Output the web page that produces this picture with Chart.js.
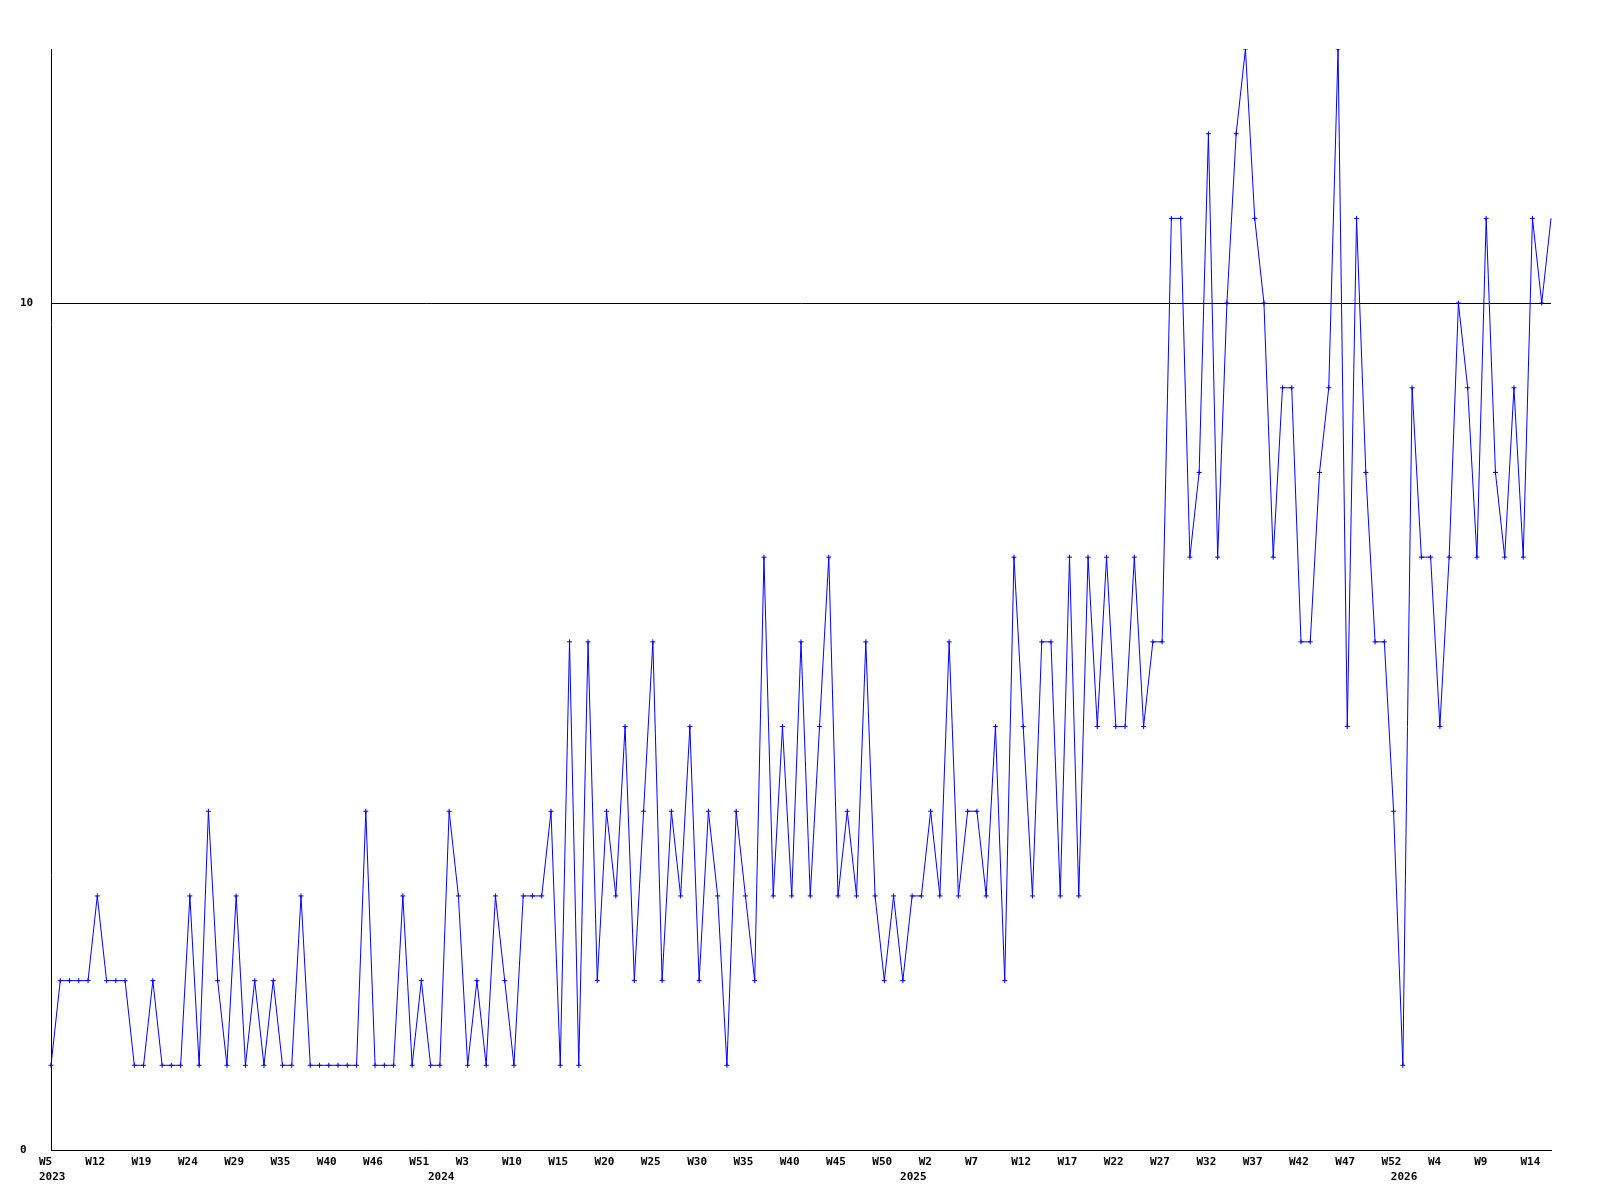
<!DOCTYPE html>
<html>
<head>
<meta charset="utf-8">
<title>Weekly count</title>
<script src="https://cdn.jsdelivr.net/npm/chart.js@4.4.1/dist/chart.umd.min.js"></script>
<style>
    html, body { margin: 0; padding: 0; background: #fff; }
    #wrap { width: 1600px; height: 1200px; }
</style>
</head>
<body>
<div id="wrap"><canvas id="weekChart" width="1600" height="1200"></canvas></div>
<script>
'use strict';

// x labels, one every 5th point
var weekTicks = ['W5', 'W12', 'W19', 'W24', 'W29', 'W35', 'W40', 'W46', 'W51',
    'W3', 'W10', 'W15', 'W20', 'W25', 'W30', 'W35', 'W40', 'W45', 'W50',
    'W2', 'W7', 'W12', 'W17', 'W22', 'W27', 'W32', 'W37', 'W42', 'W47', 'W52',
    'W4', 'W9', 'W14'];

// year labels (second line) and the point index they sit under
var yearTicks = ['2023', '2024', '2025', '2026'];
var yearTickAt = [0, 42, 93, 146];

var counts = [
    1, 2, 2, 2, 2, 3, 2, 2, 2, 1, 1, 2, 1, 1, 1, 3, 1, 4, 2, 1, 3, 1, 2, 1, 2, 1, 1, 3,
    1, 1, 1, 1, 1, 1, 4, 1, 1, 1, 3, 1, 2, 1, 1, 4, 3, 1, 2, 1, 3, 2, 1, 3, 3, 3, 4, 1,
    6, 1, 6, 2, 4, 3, 5, 2, 4, 6, 2, 4, 3, 5, 2, 4, 3, 1, 4, 3, 2, 7, 3, 5, 3, 6, 3, 5,
    7, 3, 4, 3, 6, 3, 2, 3, 2, 3, 3, 4, 3, 6, 3, 4, 4, 3, 5, 2, 7, 5, 3, 6, 6, 3, 7, 3,
    7, 5, 7, 5, 5, 7, 5, 6, 6, 11, 11, 7, 8, 12, 7, 10, 12, 13, 11, 10, 7, 9, 9, 6, 6, 8, 9, 13,
    5, 11, 8, 6, 6, 4, 1, 9, 7, 7, 5, 7, 10, 9, 7, 11, 8, 7, 9, 7, 11, 10, 11
];

var yTicks = [0, 10];

function buildLabels() {
    var labels = [];
    for (var i = 0; i < counts.length; i++) {
        var week = (i % 5 === 0) ? (weekTicks[i / 5] || '') : '';
        var y = yearTickAt.indexOf(i);
        labels.push([week, y >= 0 ? yearTicks[y] : '']);
    }
    return labels;
}

var tickFont = { family: '"DejaVu Sans Mono", "Liberation Mono", monospace', size: 11, weight: 'bold', lineHeight: 1.4 };

// the last point sits on the right edge and has no marker in the original
function markerRadius(ctx) {
    return ctx.dataIndex === counts.length - 1 ? 0 : 2.5;
}

new Chart(document.getElementById('weekChart'), {
    type: 'line',
    data: {
        labels: buildLabels(),
        datasets: [{
            data: counts,
            borderColor: '#0000ff',
            borderWidth: 1,
            tension: 0,
            fill: false,
            pointStyle: 'cross',
            pointRadius: markerRadius,
            pointHoverRadius: markerRadius,
            pointBorderColor: '#0000ff',
            pointBorderWidth: 1
        }]
    },
    options: {
        responsive: false,
        animation: false,
        layout: { padding: { left: 20, top: 49, right: 49, bottom: 0 } },
        plugins: {
            legend: { display: false },
            tooltip: { enabled: false }
        },
        scales: {
            x: {
                type: 'category',
                offset: false,
                grid: { display: false, drawTicks: false },
                border: { display: true, color: '#000', width: 1 },
                ticks: {
                    autoSkip: false,
                    maxRotation: 0,
                    minRotation: 0,
                    align: 'start',
                    labelOffset: -12,
                    padding: 4,
                    color: '#000',
                    font: tickFont
                },
                afterFit: function (scale) {
                    scale.height = 50;
                    scale.paddingLeft = 0;
                    scale.paddingRight = 0;
                }
            },
            y: {
                min: 0,
                max: 13,
                grid: { color: '#000', lineWidth: 1, drawTicks: false },
                border: { display: true, color: '#000', width: 1 },
                ticks: { crossAlign: 'far', padding: 18, color: '#000', font: tickFont },
                afterBuildTicks: function (scale) {
                    scale.ticks = yTicks.map(function (v) { return { value: v }; });
                },
                afterFit: function (scale) { scale.width = 31; }
            }
        }
    }
});
</script>
</body>
</html>
